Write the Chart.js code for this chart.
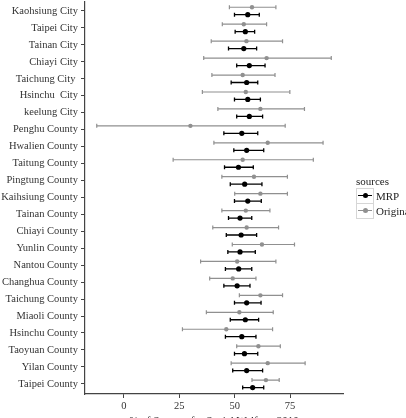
<!DOCTYPE html>
<html>
<head>
<meta charset="utf-8">
<script src="https://cdn.jsdelivr.net/npm/chart.js@4/dist/chart.umd.min.js"></script>
<style>
  html, body { margin: 0; padding: 0; background: #fff; overflow: hidden; width: 406px; height: 418px; }
  #wrap { position: absolute; left: 0; top: -8px; width: 406px; height: 440px; }
  #legend { position: absolute; left: 356px; top: 174px; font-family: "Liberation Serif", serif; font-size: 11px; color: #222; }
  #legend .ttl { height: 14px; line-height: 14px; }
  #legend .row { height: 15px; display: flex; align-items: center; }
  #legend .key { position: relative; width: 16px; height: 14px; border: 1px solid #d6d6d6; margin-right: 2px; }
  #legend .key .ln { position: absolute; left: 1px; right: 1px; top: 6px; height: 1px; }
  #legend .key .dt { position: absolute; left: 6px; top: 4px; width: 5px; height: 5px; border-radius: 50%; }
</style>
</head>
<body>
<div id="wrap"><canvas id="c" width="406" height="440"></canvas></div>
<div id="legend">
  <div class="ttl">sources</div>
  <div class="row"><div class="key"><div class="ln" style="background:#000"></div><div class="dt" style="background:#000"></div></div>MRP</div>
  <div class="row"><div class="key"><div class="ln" style="background:#909090"></div><div class="dt" style="background:#909090"></div></div>Original</div>
</div>
<script>
const categories = ['Kaohsiung City','Taipei City','Tainan City','Chiayi City','Taichung City ','Hsinchu  City','keelung City',
  'Penghu County','Hwalien County','Taitung County','Pingtung County','Kaihsiung County','Tainan County','Chiayi County',
  'Yunlin County','Nantou County','Changhua County','Taichung County','Miaoli County','Hsinchu County','Taoyuan County',
  'Yilan County','Taipei County'];

const origMean = [57.8,54.1,55.3,64.4,53.6,55.0,61.6,30.0,64.9,53.6,58.7,61.6,55.0,55.4,62.3,51.1,49.1,61.6,52.1,46.2,60.7,64.9,64.1];
const origLow  = [47.6,44.4,39.4,36.0,39.7,35.4,42.4,-12.3,40.6,22.2,44.2,50.0,44.2,40.1,48.9,34.6,38.7,52.1,37.2,26.4,50.9,48.4,57.8];
const origHigh = [68.6,64.4,71.6,93.6,68.2,74.9,81.5,72.8,89.9,85.5,73.8,73.8,65.9,69.8,77.0,68.6,59.6,71.6,67.4,67.1,70.6,81.8,70.1];

const mrpMean = [55.9,54.8,54.1,56.6,55.4,55.9,56.6,53.2,55.4,51.7,54.5,55.9,52.4,52.9,52.4,51.8,51.1,55.4,54.8,53.2,54.4,55.4,58.1];
const mrpLow  = [49.9,50.2,47.2,50.9,48.4,49.9,50.9,45.1,49.6,45.4,48.0,49.9,47.2,46.2,46.9,45.8,45.1,49.9,48.0,45.8,49.9,49.1,53.6];
const mrpHigh = [61.1,59.0,59.9,63.7,60.4,61.6,62.6,60.4,63.1,58.4,62.3,62.0,57.7,59.9,59.3,57.7,56.9,61.9,60.8,59.6,60.4,62.6,63.1];

const xTicks = [0, 25, 50, 75];
const dodge = 0.22;
const GREY = '#909090';

// interval segments, broken by null points
function intervals(lo, hi, off) {
  const pts = [];
  lo.forEach((v, i) => {
    pts.push({x: v, y: i + off}, {x: hi[i], y: i + off}, {x: null, y: null});
  });
  return pts;
}
function means(m, off) { return m.map((v, i) => ({x: v, y: i + off})); }

const ctx = document.getElementById('c').getContext('2d');
new Chart(ctx, {
  type: 'scatter',
  data: {
    datasets: [
      { data: intervals(origLow, origHigh, -dodge), showLine: true, spanGaps: false, borderColor: GREY, borderWidth: 1.2,
        pointStyle: 'line', rotation: 90, pointRadius: 2, pointBorderColor: GREY, pointBorderWidth: 1.2 },
      { data: intervals(mrpLow, mrpHigh, dodge), showLine: true, spanGaps: false, borderColor: '#000', borderWidth: 1.3,
        pointStyle: 'line', rotation: 90, pointRadius: 2, pointBorderColor: '#000', pointBorderWidth: 1.3 },
      { data: means(origMean, -dodge), pointRadius: 2.2, pointBackgroundColor: GREY, pointBorderColor: GREY, borderWidth: 0 },
      { data: means(mrpMean, dodge), pointRadius: 2.6, pointBackgroundColor: '#000', pointBorderColor: '#000', borderWidth: 0 }
    ]
  },
  options: {
    responsive: false,
    animation: false,
    layout: { padding: { left: 0, right: 63, top: 0, bottom: 0 } },
    plugins: { legend: { display: false }, tooltip: { enabled: false } },
    scales: {
      x: {
        type: 'linear', min: -17.6, max: 98.9,
        afterBuildTicks: (s) => { s.ticks = xTicks.map(v => ({value: v})); },
        afterFit: (s) => { s.height = 38; },
        grid: { drawOnChartArea: false, tickLength: 4, color: '#444', tickColor: '#444' },
        border: { color: '#444', width: 1.2 },
        ticks: { color: '#333', padding: 2, font: { family: 'Liberation Serif', size: 10.5 } },
        title: { display: true, text: '% of Support for Social Welfare, 2010', color: '#222',
          font: { family: 'Liberation Serif', size: 11 }, padding: { top: 2, bottom: 4 } }
      },
      y: {
        type: 'linear', reverse: true, min: -0.57, max: 22.6,
        afterBuildTicks: (s) => { s.ticks = categories.map((c, i) => ({value: i})); },
        afterFit: (s) => { s.width = 85; },
        grid: { drawOnChartArea: false, tickLength: 4, color: '#444', tickColor: '#444' },
        border: { color: '#444', width: 1.2 },
        ticks: { color: '#333', padding: 3, autoSkip: false, font: { family: 'Liberation Serif', size: 10.5 },
          callback: (v) => categories[v] }
      }
    }
  }
});
</script>
</body>
</html>
